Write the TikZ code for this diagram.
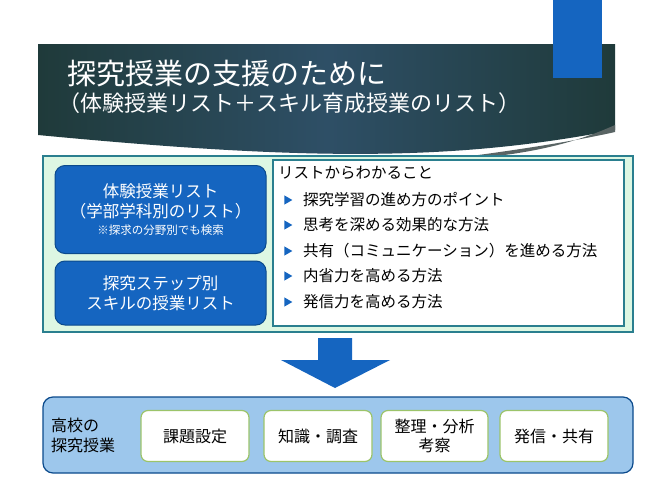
\documentclass[tikz,border=0pt]{standalone}
\usepackage{fontspec}
\setmainfont{Noto Sans CJK JP}
\usetikzlibrary{shapes.geometric}
\definecolor{hdrA}{HTML}{1F3A3A}
\definecolor{hdrB}{HTML}{2E4F66}
\definecolor{mblue}{HTML}{1565C0}
\definecolor{dblue}{HTML}{0B4A8C}
\definecolor{lgreen}{HTML}{DDF7E3}
\definecolor{teal}{HTML}{2A7F8F}
\definecolor{lblue}{HTML}{9DC7EC}
\definecolor{bgreen}{HTML}{9CC46A}
\tikzset{
 bluebox/.style={draw=dblue,line width=1pt,fill=mblue,rounded corners=10pt,text=white,align=center,font=\fontsize{16.5}{20}\selectfont},
 stepbox/.style={draw=bgreen,line width=1.2pt,fill=white,rounded corners=7pt,align=center,font=\fontsize{16}{19}\selectfont,minimum height=51pt},
 item/.style={anchor=west,font=\fontsize{15.5}{18}\selectfont},
 bul/.style={fill=mblue,isosceles triangle,isosceles triangle apex angle=60,inner sep=0pt,minimum height=8pt,minimum width=8pt}
}
\begin{document}
\begin{tikzpicture}[x=1pt,y=-1pt]
\useasboundingbox (0,0) rectangle (653,490);
\fill[white] (0,0) rectangle (653,490);
% header
\shade[left color=hdrA,right color=hdrA,middle color=hdrB] (38,44) -- (615,44) -- (615,130) .. controls (450,162) and (300,160) .. (38,135) -- cycle;
\fill[gray!60!hdrA] (615,125) .. controls (560,150) and (500,158) .. (440,160) .. controls (520,150) and (580,140) .. (615,132) -- cycle;
\fill[mblue] (553,0) rectangle (602,78);
\node[anchor=west,text=white,inner sep=0pt,font=\fontsize{29}{32}\selectfont] (t1) at (67,74) {探究授業の支援のために};
\node[anchor=west,text=white,inner sep=0pt,font=\fontsize{22}{25}\selectfont] (t2) at (58,103) {（体験授業リスト＋スキル育成授業のリスト）};
% middle
\draw[draw=teal,line width=1.5pt,fill=lgreen] (43,156) rectangle (633,332);
\node[bluebox,minimum width=211pt,minimum height=88pt] (b1) at (160.5,209.5) {体験授業リスト\\（学部学科別のリスト）\\[-3pt]{\fontsize{11.5}{13}\selectfont ※探求の分野別でも検索}};
\node[bluebox,minimum width=211pt,minimum height=64pt] (b2) at (160.5,293) {探究ステップ別\\スキルの授業リスト};
\draw[draw=teal,line width=1.2pt,fill=white] (273,160) rectangle (624,326);
\node[item,inner sep=0pt] (h) at (278,173) {リストからわかること};
\foreach \y/\t [count=\i] in {200/探究学習の進め方のポイント,225/思考を深める効果的な方法,251/共有（コミュニケーション）を進める方法,276/内省力を高める方法,302/発信力を高める方法}{
 \node[bul] (bb\i) at (287,\y) {};
 \node[item,inner sep=0pt] (it\i) at (303,\y) {\t};
}
% arrow
\fill[mblue] (318,338) -- (352,338) -- (352,360) -- (390,360) -- (335,388) -- (281,360) -- (318,360) -- cycle;
% bottom
\draw[draw=dblue,line width=1.2pt,fill=lblue,rounded corners=10pt] (43,397) rectangle (633,473);
\node[anchor=west,align=left,inner sep=0pt,font=\fontsize{16}{20}\selectfont] (lab) at (51,435) {高校の\\探究授業};
\node[stepbox,minimum width=108pt] (s1) at (195,436) {課題設定};
\node[stepbox,minimum width=108pt] (s2) at (318,436) {知識・調査};
\node[stepbox,minimum width=107pt] (s3) at (434.5,436) {整理・分析\\考察};
\node[stepbox,minimum width=108pt] (s4) at (554,436) {発信・共有};
\end{tikzpicture}
\end{document}
